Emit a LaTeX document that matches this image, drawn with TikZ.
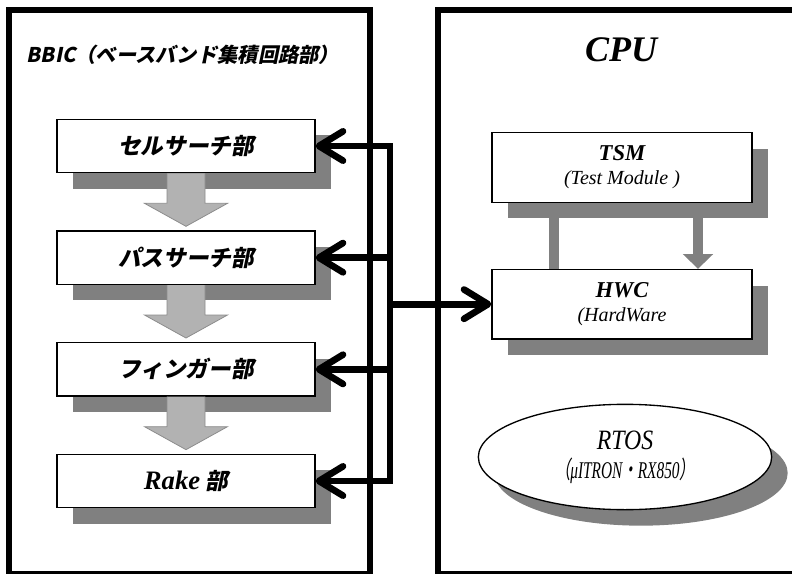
\documentclass[tikz,border=0pt]{standalone}
\usepackage{fontspec}
\setmainfont{Liberation Serif}
\newfontfamily\jpfont[FakeSlant=0.2]{Noto Sans CJK JP}
\usetikzlibrary{positioning,shapes.geometric,shadows,arrows.meta,fit}
\definecolor{shadowgray}{gray}{0.5}
\definecolor{flowgray}{gray}{0.7}
\definecolor{flowedge}{gray}{0.55}

\begin{document}
\begin{tikzpicture}
[
  x=0.75pt, y=-0.75pt,
  frame/.style={draw, line width=4.5pt, inner sep=0pt},
  shade box/.style={drop shadow={fill=shadowgray, opacity=1, shadow xshift=12pt, shadow yshift=-12pt}},
  unit/.style={draw, fill=white, line width=1pt, minimum width=193.5pt, minimum height=40pt, inner sep=0pt, shade box,
    font=\jpfont\bfseries\fontsize{17}{20}\selectfont},
  module/.style={draw, fill=white, line width=1pt, minimum width=195pt, minimum height=52pt, inner sep=0pt, shade box,
    align=center, font=\fontsize{15}{19}\selectfont\itshape},
  flow arrow/.pic={
    \fill [flowgray] (-19,0) -- (-19,30) -- (-41.5,30) -- (0,53) -- (41.5,30) -- (19,30) -- (19,0) -- cycle;
    \draw [flowedge, line width=0.6pt] (-19,0) -- (-19,30) -- (-41.5,30) -- (0,53) -- (41.5,30) -- (19,30) -- (19,0);
  },
  link/.style={draw=shadowgray, line width=7.5pt},
  bus/.style={line width=5pt, line cap=rect},
  busarrow/.style={line width=5pt, -{Straight Barb[round, length=18pt, width=22pt]}}
]
\useasboundingbox (0,0) rectangle (792,574);
\clip (0,0) rectangle (792,574);

% two blocks
\node (bbic) [frame, fit={(9,10) (370,574)}] {};
\node (cpu) [frame, fit={(438,10) (800,574)}] {};
\node (bbictitle) at (183,55) [font=\jpfont\bfseries\fontsize{15.2}{17}\selectfont] {BBIC（ベースバンド集積回路部）};
\node (cputitle) at (621,50) [font=\fontsize{27}{30}\selectfont\bfseries\itshape] {CPU};

% baseband chain
\node (cell) at (186,146) [unit] {セルサーチ部};
\node (path) [below=42.75pt of cell, unit] {パスサーチ部};
\node (finger) [below=42.75pt of path, unit] {フィンガー部};
\node (rake) [below=42.75pt of finger, unit] {{\rmfamily\bfseries\itshape\fontsize{20}{20}\selectfont Rake} 部};

\foreach \i in {cell,path,finger}
  \pic at (\i.south) {flow arrow};

% cpu side
\node (tsm) at (622,167.5) [module] {{\bfseries\fontsize{17}{19}\selectfont TSM}\\[-1pt](Test Module )};
\node (hwc) [below=49.5pt of tsm, module] {{\bfseries\fontsize{17}{19}\selectfont HWC}\\[-1pt](HardWare};
\node (rtos) at (625,457) [ellipse, draw, fill=white, line width=1pt, minimum width=220pt, minimum height=79pt, inner sep=0pt,
  shade box, align=center, font=\itshape]
  {\scalebox{0.85}[1]{\fontsize{21}{21}\selectfont RTOS}\\[5pt]
   \scalebox{0.64}[1]{\fontsize{18}{21}\selectfont{\jpfont （}μITRON{\jpfont ・}RX850{\jpfont ）}}};

\draw [link] ([xshift=47pt]tsm.south west) -- ([xshift=47pt]hwc.north west);
\draw [link, -{Triangle[width=22pt, length=11pt]}] ([xshift=-41pt]tsm.south east) -- ([xshift=-41pt]hwc.north east);

% bus
\coordinate (bus) at (390,0);
\draw [bus] (bus |- cell.east) -- (bus |- rake.east);
\foreach \i in {cell,path,finger,rake}
  \draw [busarrow] (bus |- \i.east) -- (\i.east);
\draw [busarrow] (bus |- hwc.west) -- (hwc.west);
\end{tikzpicture}
\end{document}
